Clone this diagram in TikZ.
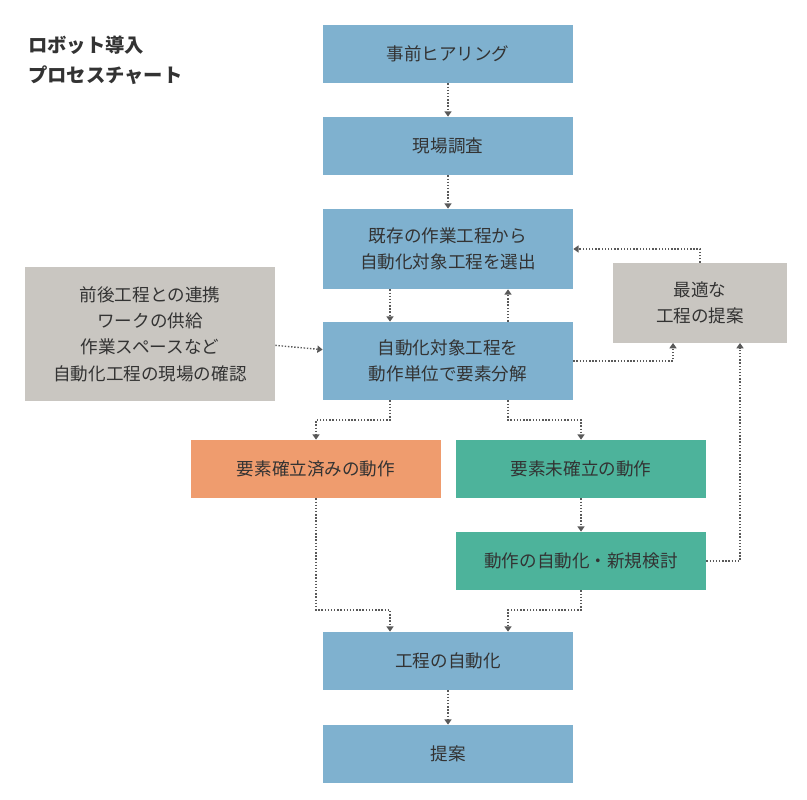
\documentclass[tikz,border=0pt]{standalone}
\usepackage{fontspec}
\setmainfont{Noto Sans CJK JP}
\usetikzlibrary{arrows.meta,positioning}
\definecolor{boxblue}{HTML}{7FB1CF}
\definecolor{boxgray}{HTML}{C9C6C1}
\definecolor{boxorange}{HTML}{EF9C6E}
\definecolor{boxteal}{HTML}{4DB39B}
\definecolor{txt}{HTML}{333333}
\tikzstyle{stage} = [rectangle, minimum width=5cm, minimum height=1.16cm, align=center, text=txt, font=\fontsize{10}{15}\selectfont, fill=boxblue]
\tikzstyle{note} = [stage, fill=boxgray]
\tikzstyle{arrow} = [densely dotted, thick, draw=gray!70!black, -{Triangle[width=4pt,length=3pt]}]

\begin{document}
\begin{tikzpicture}[x=0.02cm,y=-0.02cm]
	\useasboundingbox (0,0) rectangle (807,800);
	\node (title) [anchor=north west, align=left, text=txt, font=\bfseries\fontsize{11}{17}\selectfont] at (22,30) {ロボット導入\\プロセスチャート};
	\node (hear) [stage] at (448,54) {事前ヒアリング};
	\node (survey) [stage] at (448,146) {現場調査};
	\node (select) [stage, minimum height=1.6cm] at (448,249) {既存の作業工程から\\自動化対象工程を選出};
	\node (split) [stage, minimum height=1.56cm] at (448,361) {自動化対象工程を\\動作単位で要素分解};
	\node (check) [note, minimum height=2.68cm] at (150,334) {前後工程との連携\\ワークの供給\\作業スペースなど\\自動化工程の現場の確認};
	\node (best) [note, minimum width=3.48cm, minimum height=1.6cm] at (700,303) {最適な\\工程の提案};
	\node (known) [stage, fill=boxorange] at (316,469) {要素確立済みの動作};
	\node (unknown) [stage, fill=boxteal] at (581,469) {要素未確立の動作};
	\node (study) [stage, fill=boxteal] at (581,561) {動作の自動化・新規検討};
	\node (auto) [stage] at (448,661) {工程の自動化};
	\node (propose) [stage] at (448,754) {提案};
	\coordinate (c1) at (390,420);
	\coordinate (c2) at (508,420);
	\coordinate (c3) at (390,610);
	\coordinate (c4) at (508,610);
	\coordinate (b1) at (673,343);
	\coordinate (b2) at (740,343);
	\draw [arrow] (hear) -- (survey);
	\draw [arrow] (survey) -- (select);
	\draw [arrow] (select.south -| c1) -- (split.north -| c1);
	\draw [arrow] (split.north -| c2) -- (select.south -| c2);
	\draw [arrow] (check) -- (split);
	\draw [arrow] (split.east) -| (b1);
	\draw [arrow] (best.north) |- (select.east);
	\draw [arrow] (split.south -| c1) -- (c1) -| (known.north);
	\draw [arrow] (split.south -| c2) -- (c2) -| (unknown.north);
	\draw [arrow] (unknown) -- (study);
	\draw [arrow] (study.east) -| (b2);
	\draw [arrow] (known.south) |- (c3) -- (auto.north -| c3);
	\draw [arrow] (study.south) |- (c4) -- (auto.north -| c4);
	\draw [arrow] (auto) -- (propose);
\end{tikzpicture}
\end{document}
